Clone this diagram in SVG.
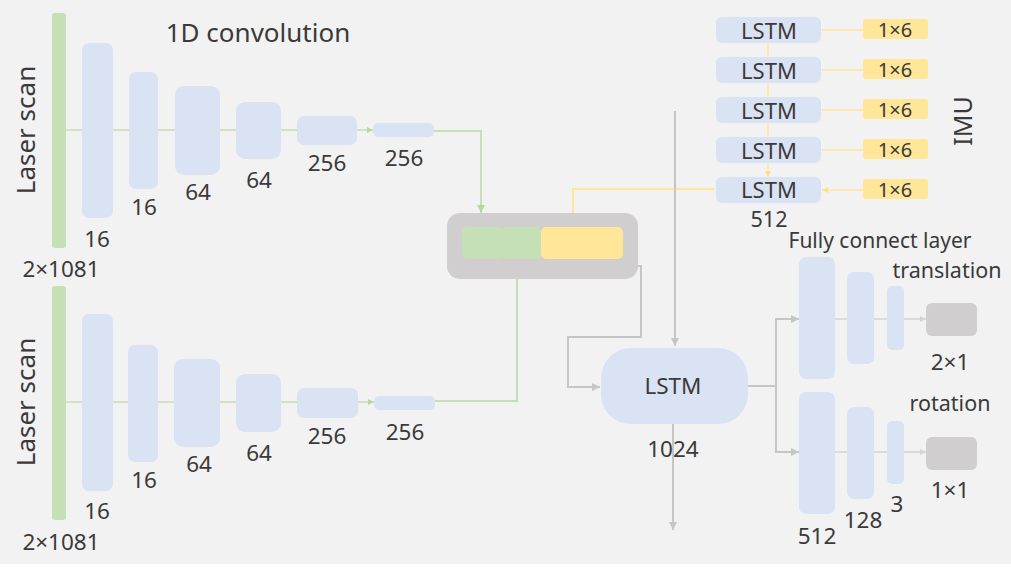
<svg xmlns="http://www.w3.org/2000/svg" width="1011" height="567" viewBox="0 0 1011 567">
<defs>
<style>
text{font-family:"Noto Sans","DejaVu Sans",sans-serif;fill:#3a3a3a;}
.blue{fill:#dae3f3;}
.green{fill:#c5e0b4;}
.yellow{fill:#ffe699;}
.gray{fill:#d0cece;}
.lg{stroke:#c5e0b4;stroke-width:2;fill:none;}
.lgt{stroke:#c5e0b4;stroke-width:1.5;fill:none;}
.ly{stroke:#ffe699;stroke-width:2;fill:none;}
.lyt{stroke:#ffe699;stroke-width:1.5;fill:none;}
.lr{stroke:#c6c6c6;stroke-width:2;fill:none;}
.lrt{stroke:#d3d3d3;stroke-width:1.5;fill:none;}
.n22{font-size:22.5px;text-anchor:middle;}
.n20{font-size:20px;text-anchor:middle;}
</style>
<marker id="ag" viewBox="0 0 10 10" refX="10" refY="5" markerWidth="8" markerHeight="8" markerUnits="userSpaceOnUse" orient="auto"><path d="M0,0 L10,5 L0,10z" fill="#b7d9a0"/></marker>
<marker id="agS" viewBox="0 0 10 10" refX="10" refY="5" markerWidth="6" markerHeight="6" markerUnits="userSpaceOnUse" orient="auto"><path d="M0,0 L10,5 L0,10z" fill="#b7d9a0"/></marker>
<marker id="ay" viewBox="0 0 10 10" refX="10" refY="5" markerWidth="6" markerHeight="6" markerUnits="userSpaceOnUse" orient="auto"><path d="M0,0 L10,5 L0,10z" fill="#ffe08a"/></marker>
<marker id="ar" viewBox="0 0 10 10" refX="10" refY="5" markerWidth="8" markerHeight="8" markerUnits="userSpaceOnUse" orient="auto"><path d="M0,0 L10,5 L0,10z" fill="#c6c6c6"/></marker>
<marker id="arS" viewBox="0 0 10 10" refX="10" refY="5" markerWidth="6" markerHeight="6" markerUnits="userSpaceOnUse" orient="auto"><path d="M0,0 L10,5 L0,10z" fill="#d3d3d3"/></marker>
</defs>
<rect x="0" y="0" width="1011" height="567" fill="#f2f2f2"/>
<rect x="0" y="564" width="1011" height="3" fill="#ffffff"/>

<text x="258" y="42" style="font-size:26px;text-anchor:middle">1D convolution</text>

<g id="connectors">
<path class="lgt" marker-end="url(#agS)" d="M66 130H82M113 130H129M158 130H175M220 130H236M281 130H297M357 130H373"/>
<path class="lgt" marker-end="url(#agS)" d="M66 402H82M113 402H128M158 402H174M220 402H236M281 402H297M358 402H374"/>
<path class="lg" marker-end="url(#ag)" d="M434 131H481V213"/>
<path class="lg" marker-end="url(#ag)" d="M435 401H517V260"/>
<path class="ly" d="M714 189H573V227"/>
<path class="lyt" marker-end="url(#ay)" d="M768 43V57M768 83V97M768 123V137M768 163V177"/>
<path class="lyt" marker-end="url(#ay)" d="M863 30H822M863 70H822M863 110H822M863 150H822M863 190H822"/>
<path class="lr" marker-end="url(#ar)" d="M636 266H641V337H568V387H600"/>
<path class="lr" marker-end="url(#ar)" d="M675 111V346"/>
<path class="lr" marker-end="url(#ar)" d="M673 424V530"/>
<path class="lr" marker-end="url(#ar)" d="M748 386H776V319H799"/>
<path class="lr" marker-end="url(#ar)" d="M776 386V452H799"/>
<path class="lrt" marker-end="url(#arS)" d="M835 319H847M874 319H887M904 319H926"/>
<path class="lrt" marker-end="url(#arS)" d="M835 452H847M874 452H887M904 452H926"/>
</g>

<g id="laser-top">
<rect class="green" x="52" y="13" width="14" height="235" rx="3"/>
<text transform="translate(35,130) rotate(-90)" style="font-size:26px;text-anchor:middle">Laser scan</text>
<text x="61" y="277" class="n22">2×1081</text>
</g>
<g id="conv-top-1"><rect class="blue" x="82" y="43" width="31" height="175" rx="7"/><text x="97" y="247" class="n22">16</text></g>
<g id="conv-top-2"><rect class="blue" x="129" y="72" width="29" height="117" rx="7"/><text x="144" y="215" class="n22">16</text></g>
<g id="conv-top-3"><rect class="blue" x="175" y="86" width="45" height="89" rx="9"/><text x="198" y="200" class="n22">64</text></g>
<g id="conv-top-4"><rect class="blue" x="236" y="102" width="45" height="57" rx="9"/><text x="259" y="188" class="n22">64</text></g>
<g id="conv-top-5"><rect class="blue" x="297" y="116" width="60" height="29" rx="7"/><text x="327" y="171" class="n22">256</text></g>
<g id="conv-top-6"><rect class="blue" x="373" y="123" width="61" height="14" rx="5"/><text x="404" y="166" class="n22">256</text></g>

<g id="laser-bottom">
<rect class="green" x="52" y="286" width="14" height="234" rx="3"/>
<text transform="translate(35,402) rotate(-90)" style="font-size:26px;text-anchor:middle">Laser scan</text>
<text x="61" y="550" class="n22">2×1081</text>
</g>
<g id="conv-bot-1"><rect class="blue" x="82" y="314" width="31" height="177" rx="7"/><text x="97" y="519" class="n22">16</text></g>
<g id="conv-bot-2"><rect class="blue" x="128" y="345" width="30" height="117" rx="7"/><text x="144" y="488" class="n22">16</text></g>
<g id="conv-bot-3"><rect class="blue" x="174" y="359" width="46" height="88" rx="9"/><text x="199" y="472" class="n22">64</text></g>
<g id="conv-bot-4"><rect class="blue" x="236" y="374" width="45" height="58" rx="9"/><text x="259" y="461" class="n22">64</text></g>
<g id="conv-bot-5"><rect class="blue" x="297" y="388" width="61" height="30" rx="7"/><text x="327" y="444" class="n22">256</text></g>
<g id="conv-bot-6"><rect class="blue" x="374" y="396" width="61" height="14" rx="5"/><text x="405" y="440" class="n22">256</text></g>

<g id="concat">
<rect class="gray" x="447" y="213" width="191" height="66" rx="13"/>
<rect class="green" x="462" y="227" width="41" height="32" rx="5"/>
<rect class="green" x="501" y="227" width="41" height="32" rx="5"/>
<rect class="yellow" x="541" y="227" width="82" height="32" rx="5"/>
</g>

<g id="imu-lstm">
<rect class="blue" x="716" y="17" width="105" height="26" rx="6"/><text x="769" y="38.5" class="n22" style="font-size:22px">LSTM</text>
<rect class="blue" x="716" y="57" width="105" height="26" rx="6"/><text x="769" y="78.5" class="n22" style="font-size:22px">LSTM</text>
<rect class="blue" x="716" y="97" width="105" height="26" rx="6"/><text x="769" y="118.5" class="n22" style="font-size:22px">LSTM</text>
<rect class="blue" x="716" y="137" width="105" height="26" rx="6"/><text x="769" y="158.5" class="n22" style="font-size:22px">LSTM</text>
<rect class="blue" x="716" y="177" width="105" height="26" rx="6"/><text x="769" y="198" class="n22" style="font-size:22px">LSTM</text>
<text x="769" y="227" class="n22" style="font-size:21.5px">512</text>
</g>
<g id="imu-inputs">
<rect class="yellow" x="863" y="19" width="65" height="20" rx="3"/><text x="895" y="36.5" class="n20">1×6</text>
<rect class="yellow" x="863" y="59" width="65" height="20" rx="3"/><text x="895" y="76.5" class="n20">1×6</text>
<rect class="yellow" x="863" y="99" width="65" height="20" rx="3"/><text x="895" y="116.5" class="n20">1×6</text>
<rect class="yellow" x="863" y="139" width="65" height="20" rx="3"/><text x="895" y="156.5" class="n20">1×6</text>
<rect class="yellow" x="863" y="179" width="65" height="20" rx="3"/><text x="895" y="196.5" class="n20">1×6</text>
<text transform="translate(972,121) rotate(-90)" style="font-size:25px;text-anchor:middle">IMU</text>
</g>

<g id="lstm-main">
<rect class="blue" x="601" y="348" width="147" height="76" rx="30"/>
<text x="673" y="394" class="n22">LSTM</text>
<text x="673" y="457" class="n22">1024</text>
</g>

<g id="fc-top">
<text x="880" y="248" style="font-size:21px;text-anchor:middle">Fully connect layer</text>
<text x="947" y="278" style="font-size:21.5px;text-anchor:middle">translation</text>
<rect class="blue" x="799" y="257" width="36" height="122" rx="7"/>
<rect class="blue" x="847" y="272" width="27" height="92" rx="7"/>
<rect class="blue" x="887" y="286" width="17" height="64" rx="5"/>
<rect class="gray" x="926" y="303" width="51" height="33" rx="6"/>
<text x="950" y="370" class="n22">2×1</text>
</g>
<g id="fc-bottom">
<text x="950" y="411" style="font-size:21.5px;text-anchor:middle">rotation</text>
<rect class="blue" x="799" y="392" width="36" height="122" rx="7"/>
<rect class="blue" x="847" y="407" width="27" height="92" rx="7"/>
<rect class="blue" x="887" y="421" width="17" height="63" rx="5"/>
<rect class="gray" x="926" y="437" width="51" height="33" rx="6"/>
<text x="950" y="498" class="n22">1×1</text>
<text x="817" y="544" class="n22">512</text>
<text x="863" y="528" class="n22">128</text>
<text x="897" y="512" class="n22">3</text>
</g>
</svg>
